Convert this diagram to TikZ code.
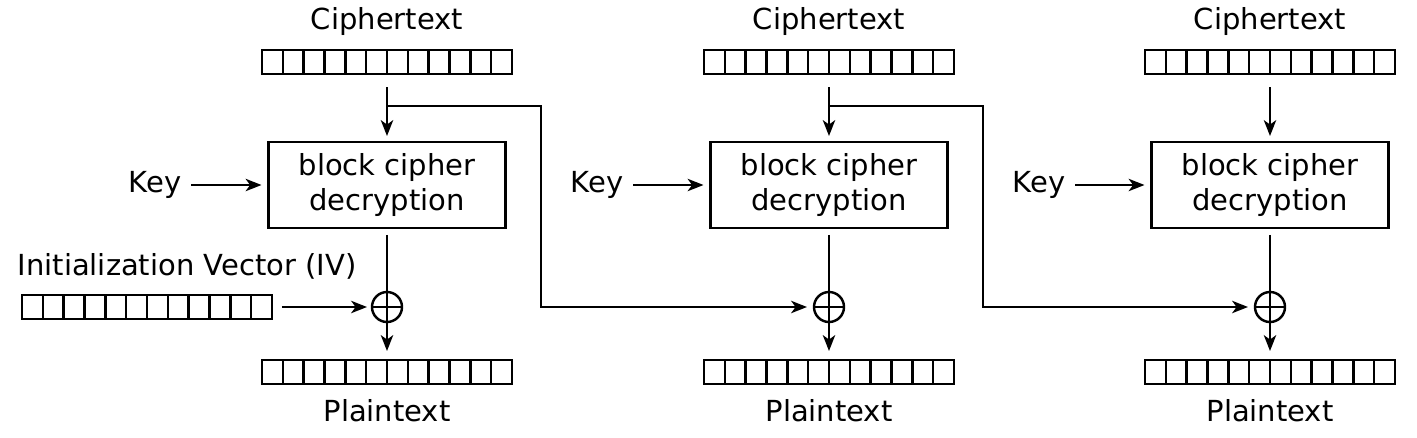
\documentclass[tikz,border=0pt]{standalone}
\usepackage{fontspec}
\setmainfont{DejaVu Sans}
\usetikzlibrary{calc, arrows.meta}

\begin{document}
\begin{tikzpicture}[x=0.02cm, y=-0.02cm, font=\fontsize{16.5}{20}\selectfont, line width=1.4pt,
	arr/.style={-{Stealth[length=9pt, width=7pt, inset=2.5pt]}},
	reg/.style={draw, minimum width=5cm, minimum height=0.48cm, inner sep=0pt, outer sep=0pt,
		path picture={\foreach \k in {1,...,11} \draw ($(path picture bounding box.south west)!\k/12!(path picture bounding box.south east)$) -- ($(path picture bounding box.north west)!\k/12!(path picture bounding box.north east)$);}},
	dec/.style={draw, align=center, minimum width=4.74cm, minimum height=1.72cm, inner sep=0pt, outer sep=0pt},
	xor/.style={draw, circle, minimum size=0.6cm, inner sep=0pt, outer sep=0pt,
		path picture={\draw (path picture bounding box.north) -- (path picture bounding box.south) (path picture bounding box.west) -- (path picture bounding box.east);}}]

	\useasboundingbox (0, 0) rectangle (1417, 437);

	% Khối 1
	\node (ct1) at (387, 21) {Ciphertext};
	\node[reg] (creg1) at (387, 62) {};
	\node[dec] (dec1) at (387, 185) {block cipher\\decryption};
	\node (key1) at (155, 185) {Key};
	\node[xor] (xor1) at (387, 307) {};
	\node[reg] (preg1) at (387, 372) {};
	\node (pt1) at (387, 411) {Plaintext};
	\node (ivtext) at (187, 266) {Initialization Vector (IV)};
	\node[reg] (ivreg) at (147, 307) {};
	\coordinate (tap1) at (387, 106);
	\coordinate (bend1) at (541, 106);

	% Khối 2
	\node (ct2) at (829, 21) {Ciphertext};
	\node[reg] (creg2) at (829, 62) {};
	\node[dec] (dec2) at (829, 185) {block cipher\\decryption};
	\node (key2) at (597, 185) {Key};
	\node[xor] (xor2) at (829, 307) {};
	\node[reg] (preg2) at (829, 372) {};
	\node (pt2) at (829, 411) {Plaintext};
	\coordinate (tap2) at (829, 106);
	\coordinate (bend2) at (983, 106);

	% Khối 3
	\node (ct3) at (1270, 21) {Ciphertext};
	\node[reg] (creg3) at (1270, 62) {};
	\node[dec] (dec3) at (1270, 185) {block cipher\\decryption};
	\node (key3) at (1039, 185) {Key};
	\node[xor] (xor3) at (1270, 307) {};
	\node[reg] (preg3) at (1270, 372) {};
	\node (pt3) at (1270, 411) {Plaintext};

	% Mũi tên
	\draw[arr, shorten <=0.26cm, shorten >=0.12cm] (creg1) -- (dec1);
	\draw[arr, shorten <=0.26cm, shorten >=0.12cm] (creg2) -- (dec2);
	\draw[arr, shorten <=0.26cm, shorten >=0.12cm] (creg3) -- (dec3);
	\draw[arr, shorten <=0.06cm, shorten >=0.14cm] (key1.east) -- (key1.east -| dec1.west);
	\draw[arr, shorten <=0.06cm, shorten >=0.14cm] (key2.east) -- (key2.east -| dec2.west);
	\draw[arr, shorten <=0.06cm, shorten >=0.14cm] (key3.east) -- (key3.east -| dec3.west);
	\draw[shorten <=0.14cm] (dec1) -- (xor1);
	\draw[shorten <=0.14cm] (dec2) -- (xor2);
	\draw[shorten <=0.14cm] (dec3) -- (xor3);
	\draw[arr, shorten >=0.18cm] (xor1) -- (preg1);
	\draw[arr, shorten >=0.18cm] (xor2) -- (preg2);
	\draw[arr, shorten >=0.18cm] (xor3) -- (preg3);
	\draw[arr, shorten <=0.2cm, shorten >=0.1cm] (ivreg) -- (xor1);
	\draw[arr, shorten >=0.14cm] (tap1) -- (bend1) |- (xor2);
	\draw[arr, shorten >=0.14cm] (tap2) -- (bend2) |- (xor3);
\end{tikzpicture}
\end{document}
